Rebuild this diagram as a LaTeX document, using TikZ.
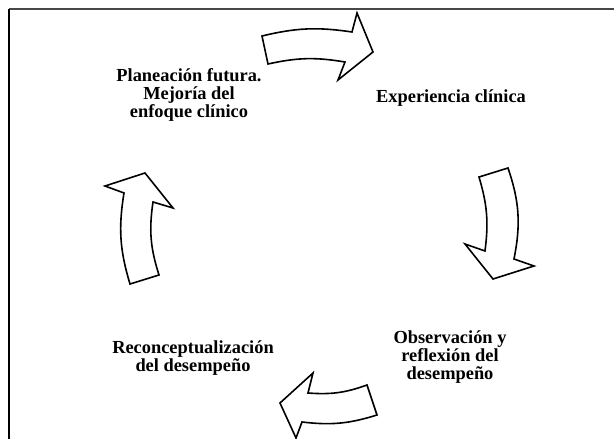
\documentclass[tikz,border=0pt]{standalone}
\usepackage{fontspec}
\setmainfont{Liberation Serif}
\usetikzlibrary{positioning}

\begin{document}
\begin{tikzpicture}[x=1pt,y=-1pt,
  etapa/.style={font=\bfseries\fontsize{18.4}{17.8}\selectfont, align=center, inner sep=0pt},
  flecha/.style={draw=black, line width=1.6pt, fill=white, line join=miter}]
 \useasboundingbox (0,0) rectangle (614,439);
 % marco
 \draw[line width=2pt, black!72] (9,9) -- (614,9);
 \draw[line width=1.5pt] (9,9) -- (9,439);

 \node (plan) [etapa] at (189,95)  {Planeación futura.\\Mejoría del\\enfoque clínico};
 \node (exp)  [etapa] at (451,98)  {Experiencia clínica};
 \node (obs)  [etapa] at (450,357) {Observación y\\reflexión del\\desempeño};
 \node (rec)  [etapa] at (193,358) {Reconceptualización\\del desempeño};

 % flechas
 \draw[flecha] (262,36) to[bend left=11] (352,32) -- (357,13) -- (373,52)
   -- (338,80) -- (345,62) to[bend right=11] (268,64) -- cycle;
 \draw[flecha] (479,177) -- (508,168) to[bend left=15] (514,259) -- (534,266)
   -- (493,279) -- (465,244) -- (485,251) to[bend right=12] cycle;
 \draw[flecha] (367,385) -- (377,415) to[bend left=12] (302,422) -- (296,438)
   -- (280,403) -- (313,373) -- (308,393) to[bend right=12] cycle;
 \draw[flecha] (130,284) -- (159,275) to[bend left=13] (153,202) -- (173,208)
   -- (145,173) -- (105,186) -- (124,193) to[bend right=13] cycle;
\end{tikzpicture}
\end{document}
